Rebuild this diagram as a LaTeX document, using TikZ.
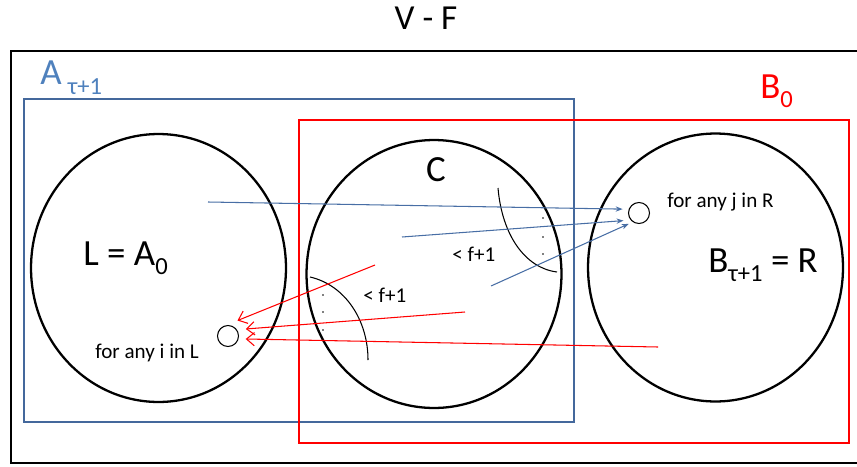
\documentclass[tikz,border=0pt]{standalone}
\usepackage{fontspec}
\setmainfont{Carlito}
\usepackage{xcolor}
\usepackage{tikz}
\usetikzlibrary{arrows.meta,positioning,shapes.geometric}
\definecolor{frameblue}{RGB}{68,104,156}
\definecolor{labelblue}{RGB}{79,129,189}
\definecolor{arrowblue}{RGB}{72,110,165}
\definecolor{setred}{RGB}{255,0,0}
\newcommand{\lowsub}[1]{\raisebox{-0.25em}{\fontsize{14}{14}\selectfont #1}}

\begin{document}
\begin{tikzpicture}[x=0.02cm, y=-0.02cm,
  set/.style={draw, ellipse, line width=1.3pt, minimum width=5.1cm, minimum height=5.36cm, inner sep=0pt},
  elem/.style={draw, circle, line width=0.6pt, minimum size=0.42cm, inner sep=0pt},
  big/.style={font=\fontsize{21}{21}\selectfont, inner sep=0pt, anchor=base west},
  small/.style={font=\fontsize{12}{12}\selectfont, inner sep=0pt, anchor=base west},
  toj/.style={arrowblue, line width=0.6pt, -{Stealth[length=4pt,width=3pt]}},
  toi/.style={setred, line width=0.6pt, -{Straight Barb[length=4.5pt,width=7.5pt]}}]
  \useasboundingbox (0,0) rectangle (857,466);
  % frames
  \draw[line width=1.4pt] (870,51) -- (11,51) -- (11,463) -- (870,463);
  \draw[frameblue, line width=1.1pt] (24,99) rectangle (574,422);
  \draw[setred, line width=1.6pt] (299,120) rectangle (849,443);
  \node[font=\fontsize{20}{20}\selectfont] (title) at (426,18) {V - F};
  \node[big, labelblue] (Alabel) at (40,85) {A\,\lowsub{τ+1}};
  \node[big, setred] (Blabel) at (760,98) {B\lowsub{0}};
  % the three sets
  \node[set] (L) at (158.5,268) {};
  \node[set] (C) at (434,274) {};
  \node[set] (R) at (715.5,267.5) {};
  \node[big] (Ltext) at (83,265) {L = A\lowsub{0}};
  \node[big, anchor=base] (Ctext) at (436,181) {C};
  \node[big] (Rtext) at (708,272) {B\lowsub{τ+1} = R};
  % single elements
  \node[elem] (i) at (228,336) {};
  \node[elem] (j) at (639,213) {};
  \node[small] (itext) at (95,358) {for any i in L};
  \node[small] (jtext) at (667,207) {for any j in R};
  \node[small] (fR) at (452,261) {< f+1};
  \node[small] (fL) at (363,302) {< f+1};
  % arcs with dots
  \draw[line width=0.6pt] (498,188) .. controls (502,235) and (525,268) .. (557,272);
  \draw[line width=0.6pt] (310,277) .. controls (345,285) and (368,320) .. (368,360);
  \foreach \y in {218,237,254} \fill (543,\y) circle[radius=0.9];
  \foreach \y in {295,312,330} \fill (323,\y) circle[radius=0.9];
  % edges into j
  \coordinate (sj1) at (208,202);
  \coordinate (sj2) at (402,237);
  \coordinate (sj3) at (491,286);
  \draw[toj, shorten >=3.4pt] (sj1) -- (j.160);
  \draw[toj, shorten >=4pt] (sj2) -- (j.220);
  \draw[toj, shorten >=2.5pt] (sj3) -- (j.235);
  % edges into i
  \coordinate (si1) at (375,265);
  \coordinate (si2) at (465,312);
  \coordinate (si3) at (658,347);
  \draw[toi, shorten >=7pt] (si1) -- (i.100);
  \draw[toi, shorten >=5pt] (si2) -- (i.35);
  \draw[toi, shorten >=4pt] (si3) -- (i.-15);
\end{tikzpicture}
\end{document}
